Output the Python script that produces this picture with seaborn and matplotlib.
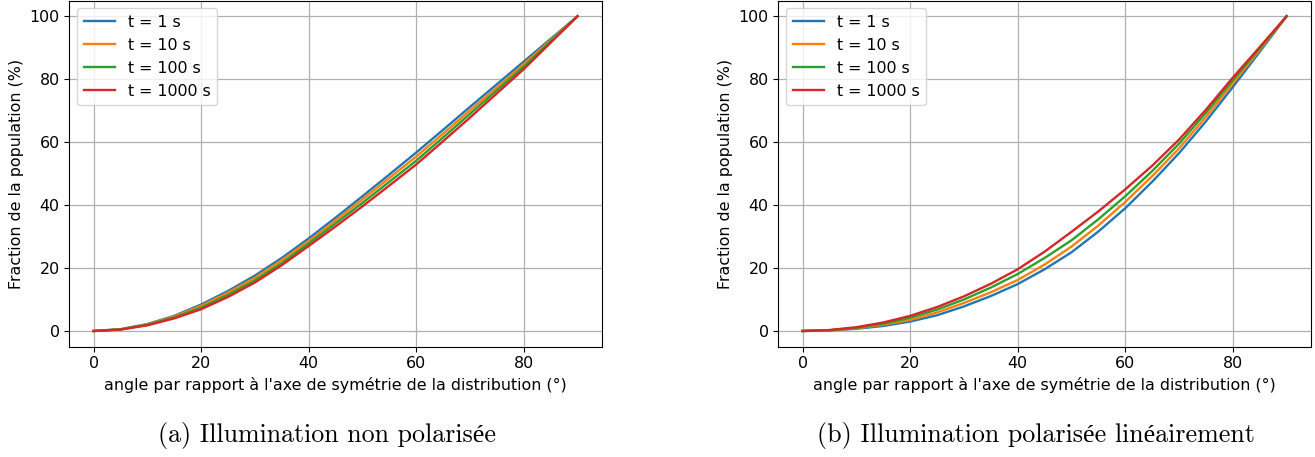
import numpy as np
import pandas as pd
import matplotlib
matplotlib.use("Agg")
import matplotlib.pyplot as plt
import seaborn as sns

# angles (deg), 5 degree steps
angle = [0, 5, 10, 15, 20, 25, 30, 35, 40, 45, 50, 55, 60, 65, 70, 75, 80, 85, 90]
labels = ['t = 1 s', 't = 10 s', 't = 100 s', 't = 1000 s']

# (a) unpolarised illumination
unpol_1 = [0, 0.55, 2.2, 4.8, 8.4, 12.7, 17.6, 23.2, 29.4, 36.0, 42.8, 49.7, 56.7, 63.9, 71.2, 78.4, 85.6, 92.8, 100]
unpol_10 = [0, 0.52, 2.1, 4.6, 8.0, 12.2, 16.9, 22.5, 28.6, 35.1, 41.8, 48.6, 55.4, 62.7, 70.1, 77.4, 84.8, 92.4, 100]
unpol_100 = [0, 0.49, 1.95, 4.3, 7.4, 11.5, 16.1, 21.6, 27.8, 34.2, 40.7, 47.4, 54.1, 61.5, 69.0, 76.5, 84.0, 92.0, 100]
unpol_1000 = [0, 0.45, 1.8, 4.0, 6.9, 10.8, 15.4, 20.9, 27.0, 33.2, 39.6, 46.2, 52.9, 60.3, 67.8, 75.5, 83.2, 91.6, 100]

# (b) linearly polarised illumination
pol_1 = [0, 0.18, 0.7, 1.6, 3.0, 5.0, 7.8, 11.1, 14.9, 19.6, 25.0, 31.6, 39.0, 47.4, 56.5, 66.6, 77.5, 88.7, 100]
pol_10 = [0, 0.21, 0.85, 2.0, 3.5, 5.9, 8.9, 12.3, 16.2, 21.1, 26.8, 33.5, 41.0, 49.2, 58.0, 68.0, 78.7, 89.3, 100]
pol_100 = [0, 0.25, 1.0, 2.3, 4.2, 6.8, 10.0, 13.8, 18.1, 23.2, 28.8, 35.5, 42.8, 50.8, 59.5, 69.3, 79.7, 89.8, 100]
pol_1000 = [0, 0.3, 1.2, 2.7, 4.8, 7.6, 11.0, 15.0, 19.6, 25.2, 31.5, 38.0, 45.0, 52.5, 60.8, 70.3, 80.5, 90.2, 100]

panels = [
    ([unpol_1, unpol_10, unpol_100, unpol_1000], '(a) Illumination non polarisée'),
    ([pol_1, pol_10, pol_100, pol_1000], '(b) Illumination polarisée linéairement'),
]

colors = sns.color_palette('tab10', 4)
plt.rcParams['font.size'] = 11.4

fig = plt.figure(figsize=(13.15, 4.57), dpi=100)
ax_pos = [[0.0527, 0.2413, 0.4049, 0.7576], [0.5919, 0.2413, 0.4049, 0.7576]]
cap_x = [0.249, 0.7875]

for i, (series, caption) in enumerate(panels):
    ax = fig.add_axes(ax_pos[i])
    for vals, lab, c in zip(series, labels, colors):
        sns.lineplot(x=angle, y=vals, label=lab, color=c, linewidth=1.7, ax=ax)
    ax.grid(True, color='#b0b0b0', linewidth=0.9)
    ax.set_axisbelow(True)
    ax.set_xlabel("angle par rapport à l'axe de symétrie de la distribution (°)")
    ax.set_ylabel('Fraction de la population (%)')
    ax.set_xticks([0, 20, 40, 60, 80])
    ax.set_yticks([0, 20, 40, 60, 80, 100])
    ax.legend(loc='upper left')
    fig.text(cap_x[i], 0.046, caption, ha='center', va='center', fontsize=18.7,
             family=['cmr10', 'Liberation Serif'])

plt.savefig('out.png', dpi=100)
